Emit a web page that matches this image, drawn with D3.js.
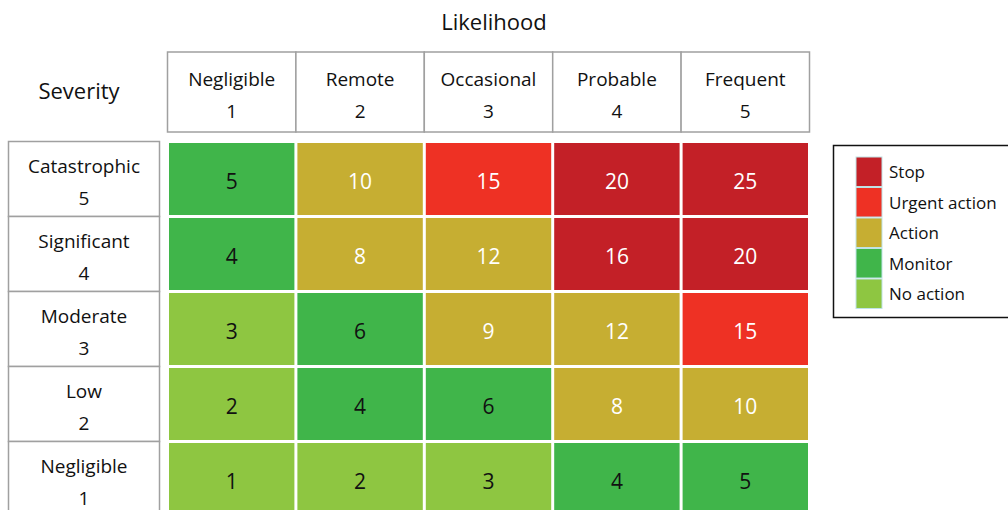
<!DOCTYPE html>
<html><head><meta charset="utf-8">
<script src="https://cdn.jsdelivr.net/npm/d3@7"></script>
<style>html,body{margin:0;padding:0;background:#fff;}svg{display:block;font-family:"Open Sans",sans-serif;}</style>
</head><body><svg id="c" width="1008" height="510"></svg>
<script>
const likelihoodNames = ["Negligible","Remote","Occasional","Probable","Frequent"];
const likelihoodLevels = [1,2,3,4,5];
const severityNames = ["Catastrophic","Significant","Moderate","Low","Negligible"];
const severityLevels = [5,4,3,2,1];
const scores = [
  [5,10,15,20,25],
  [4,8,12,16,20],
  [3,6,9,12,15],
  [2,4,6,8,10],
  [1,2,3,4,5]
];
const ratings = [
  ["Monitor","Action","Urgent action","Stop","Stop"],
  ["Monitor","Action","Action","Stop","Stop"],
  ["No action","Monitor","Action","Action","Urgent action"],
  ["No action","Monitor","Monitor","Action","Action"],
  ["No action","No action","No action","Monitor","Monitor"]
];
const legendLabels = ["Stop","Urgent action","Action","Monitor","No action"];
const legendColors = ["#c32027","#ee3124","#c6ae32","#40b54a","#8ec641"];
const textColors = {"Stop":"#fff","Urgent action":"#fff","Action":"#fff","Monitor":"#111","No action":"#111"};

const svg = d3.select("#c");
const color = d3.scaleOrdinal().domain(legendLabels).range(legendColors);
const x = d3.scaleBand().domain(likelihoodLevels).range([167.5, 809.5]);
const y = d3.scaleBand().domain(severityLevels).range([141.5, 516.5]);

svg.append("text").attr("x", 494).attr("y", 30).attr("text-anchor","middle")
  .attr("font-size", 22).attr("fill","#111").text("Likelihood");
svg.append("text").attr("x", 79).attr("y", 99).attr("text-anchor","middle")
  .attr("font-size", 22).attr("fill","#111").text("Severity");

// column headers
const hdr = svg.append("g");
likelihoodLevels.forEach((l,i)=>{
  hdr.append("rect").attr("x", x(l)).attr("y", 52).attr("width", x.bandwidth()).attr("height", 80)
    .attr("fill","#fff").attr("stroke","#a0a0a0").attr("stroke-width",1.5);
  hdr.append("text").attr("x", x(l)+x.bandwidth()/2).attr("y", 86).attr("text-anchor","middle")
    .attr("font-size",19).attr("fill","#111").text(likelihoodNames[i]);
  hdr.append("text").attr("x", x(l)+x.bandwidth()/2).attr("y", 118).attr("text-anchor","middle")
    .attr("font-size",19).attr("fill","#111").text(l);
});

// row headers
const rh = svg.append("g");
severityLevels.forEach((s,i)=>{
  rh.append("rect").attr("x", 8.5).attr("y", y(s)).attr("width", 151).attr("height", y.bandwidth())
    .attr("fill","#fff").attr("stroke","#a0a0a0").attr("stroke-width",1.5);
  rh.append("text").attr("x", 84).attr("y", y(s)+y.bandwidth()/2-6).attr("text-anchor","middle")
    .attr("font-size",19).attr("fill","#111").text(severityNames[i]);
  rh.append("text").attr("x", 84).attr("y", y(s)+y.bandwidth()/2+26).attr("text-anchor","middle")
    .attr("font-size",19).attr("fill","#111").text(s);
});

// cells
const cells = [];
severityLevels.forEach((s,i)=>likelihoodLevels.forEach((l,j)=>cells.push({s,l,v:scores[i][j],r:ratings[i][j]})));
const g = svg.append("g");
g.selectAll("rect").data(cells).join("rect")
  .attr("x", d=>x(d.l)+1.5).attr("y", d=>y(d.s)+1.5)
  .attr("width", x.bandwidth()-3).attr("height", y.bandwidth()-3)
  .attr("fill", d=>color(d.r));
g.selectAll("text").data(cells).join("text")
  .attr("x", d=>x(d.l)+x.bandwidth()/2).attr("y", d=>y(d.s)+y.bandwidth()/2+10)
  .attr("text-anchor","middle").attr("font-size",21)
  .attr("fill", d=>textColors[d.r]).text(d=>d.v);

// legend
const lg = svg.append("g");
lg.append("rect").attr("x",833.5).attr("y",145.5).attr("width",200).attr("height",172)
  .attr("fill","#fff").attr("stroke","#111").attr("stroke-width",1.5);
const ly = d3.scaleBand().domain(legendLabels).range([157, 309.5]);
lg.selectAll("rect.sw").data(legendLabels).join("rect").attr("class","sw")
  .attr("x",856).attr("y",d=>ly(d)).attr("width",26).attr("height",ly.bandwidth()-1)
  .attr("fill",d=>color(d)).attr("stroke","#bfe3e6").attr("stroke-width",1);
lg.selectAll("text").data(legendLabels).join("text")
  .attr("x",889).attr("y",d=>ly(d)+ly.bandwidth()/2+6)
  .attr("font-size",17).attr("fill","#111").text(d=>d);
</script></body></html>
